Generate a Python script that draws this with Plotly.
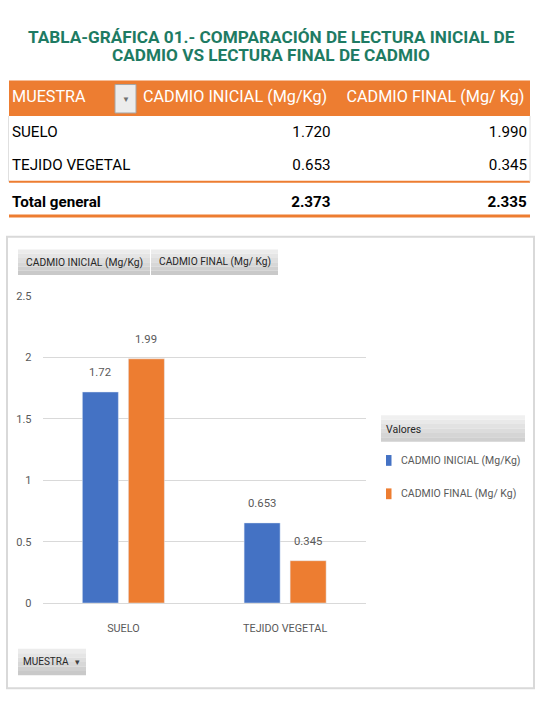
import plotly.graph_objects as go

# -- datos de la tabla / grafica
muestras = ["SUELO", "TEJIDO VEGETAL"]
cadmio_inicial = [1.720, 0.653]
cadmio_final = [1.990, 0.345]
total_inicial = 2.373
total_final = 2.335
etiquetas_inicial = ["1.72", "0.653"]
etiquetas_final = ["1.99", "0.345"]
serie_inicial = "CADMIO INICIAL (Mg/Kg)"
serie_final = "CADMIO FINAL (Mg/ Kg)"
y_ticks = [0, 0.5, 1, 1.5, 2, 2.5]
titulo = ["TABLA-GRÁFICA 01.- COMPARACIÓN DE LECTURA INICIAL DE",
          "CADMIO VS LECTURA FINAL DE CADMIO"]

W, H = 543, 702
FONT = "Roboto, Liberation Sans, sans-serif"
AZUL = "#4472c4"
NARANJA = "#ed7d31"
GRIS_TXT = "#595959"
BARGAP, BARGROUPGAP = 0.431, 0.217
X0_PLOT, X1_PLOT = 42.5, 366


def px(x):
    return x / W


def py(y):
    return 1 - y / H


def nb(s):
    # espacios no separables para que la tabla no parta el texto
    return s.replace(" ", "\u00a0")


fig = go.Figure()

# -- tabla dinamica
col_muestra = [nb(m) for m in muestras] + ["<b>" + nb("Total general") + "</b>"]
col_inicial = [f"{v:.3f}" for v in cadmio_inicial] + [f"<b>{total_inicial:.3f}</b>"]
col_final = [f"{v:.3f}" for v in cadmio_final] + [f"<b>{total_final:.3f}</b>"]

fig.add_trace(go.Table(
    domain=dict(x=[px(4), px(535)], y=[py(214), py(77)]),
    columnwidth=[131, 203.5, 196.5],
    header=dict(values=["MUESTRA", nb(serie_inicial), nb(serie_final)],
                fill_color="rgba(0,0,0,0)", line=dict(width=0, color="rgba(0,0,0,0)"),
                font=dict(family=FONT, size=16.2, color="white"), align="left", height=36),
    cells=dict(values=[col_muestra, col_inicial, col_final],
               fill_color="rgba(0,0,0,0)", line=dict(width=0, color="rgba(0,0,0,0)"),
               font=dict(family=FONT, size=15.2, color="black"),
               align=["left", "right", "right"], height=33.5),
))

# -- grafica de barras
fig.add_trace(go.Bar(x=muestras, y=cadmio_inicial, name=serie_inicial, marker_color=AZUL))
fig.add_trace(go.Bar(x=muestras, y=cadmio_final, name=serie_final, marker_color=NARANJA))

shapes = [
    # encabezado naranja
    dict(type="rect", xref="paper", yref="paper", x0=px(9), x1=px(530), y0=py(112), y1=py(76),
         fillcolor=NARANJA, line_width=0, layer="below"),
    # boton desplegable del encabezado
    dict(type="rect", xref="paper", yref="paper", x0=px(115), x1=px(136), y0=py(109), y1=py(80),
         fillcolor="#ececec", line=dict(color="#a6a6a6", width=1)),
    # lineas de la tabla
    dict(type="line", xref="paper", yref="paper", x0=px(9), x1=px(530), y0=py(179), y1=py(179),
         line=dict(color=NARANJA, width=2)),
    dict(type="line", xref="paper", yref="paper", x0=px(9), x1=px(530), y0=py(214), y1=py(214),
         line=dict(color=NARANJA, width=3)),
    dict(type="line", xref="paper", yref="paper", x0=px(8.5), x1=px(8.5), y0=py(179), y1=py(112),
         line=dict(color="#e0e0e0", width=1)),
    dict(type="line", xref="paper", yref="paper", x0=px(530), x1=px(530), y0=py(179), y1=py(112),
         line=dict(color="#e0e0e0", width=1)),
    # marco del grafico
    dict(type="rect", xref="paper", yref="paper", x0=px(7), x1=px(534), y0=py(695), y1=py(235),
         line=dict(color="#d9d9d9", width=2), fillcolor="rgba(0,0,0,0)", layer="below"),
]


# botones de campo (gradiente gris simulado)
def boton(x0, x1, y0, y1, claro="#ececec", oscuro="#c9c9c9", pasos=6):
    out = []
    h = (y1 - y0) / pasos
    c1 = [int(claro[i:i + 2], 16) for i in (1, 3, 5)]
    c2 = [int(oscuro[i:i + 2], 16) for i in (1, 3, 5)]
    for k in range(pasos):
        t = k / (pasos - 1)
        c = "#" + "".join(f"{int(a + (b - a) * t):02x}" for a, b in zip(c1, c2))
        out.append(dict(type="rect", xref="paper", yref="paper", x0=px(x0), x1=px(x1),
                        y0=py(y0 + h * (k + 1)), y1=py(y0 + h * k), fillcolor=c, line_width=0,
                        layer="below"))
    return out


shapes += boton(18, 150, 248, 274)
shapes += boton(151, 278, 248, 274)
shapes += boton(381, 525, 417, 444, claro="#f0f0f0", oscuro="#cfcfcf")
shapes += boton(18, 86, 655, 682)


def nota(texto, x, y, size, color="#262626", xanchor="center", **kw):
    return dict(text=texto, xref="paper", yref="paper", x=px(x), y=py(y), showarrow=False,
                xanchor=xanchor, yanchor="middle", font=dict(family=FONT, size=size, color=color, **kw))


annotations = [
    nota(titulo[0], 271.5, 32, 17.2, color="#1e7b63", weight="bold"),
    nota(titulo[1], 271, 50, 17.2, color="#1e7b63", weight="bold"),
    nota("▼", 125.5, 95, 8, color="#707070"),
    nota(serie_inicial, 84, 261, 10.3),
    nota(serie_final, 214.5, 261, 10.2),
    nota("Valores", 384, 431, 10.5, xanchor="left"),
    nota("MUESTRA", 21, 668, 10, xanchor="left"),
    nota("▾", 77, 668, 9, color="#404040"),
]

# leyenda al estilo de la tabla dinamica
for i, (nombre, color) in enumerate([(serie_inicial, AZUL), (serie_final, NARANJA)]):
    yc = 463 + 34 * i
    shapes.append(dict(type="rect", xref="paper", yref="paper", x0=px(386), x1=px(391.5),
                       y0=py(yc + 5.5), y1=py(yc - 5.5), fillcolor=color, line_width=0))
    annotations.append(nota(nombre, 399, yc, 10.5, color=GRIS_TXT, xanchor="left"))

# etiquetas de datos sobre cada barra
desplaz = (X1_PLOT - X0_PLOT) / len(muestras) * (1 - BARGAP) / 4
for serie, etiquetas, signo in [(cadmio_inicial, etiquetas_inicial, -1), (cadmio_final, etiquetas_final, 1)]:
    for cat, val, txt in zip(muestras, serie, etiquetas):
        annotations.append(dict(text=txt, x=cat, y=val, xref="x", yref="y", showarrow=False,
                                xshift=signo * desplaz, yanchor="bottom", yshift=11,
                                font=dict(family=FONT, size=11.3, color=GRIS_TXT)))

fig.update_layout(
    width=W, height=H,
    margin=dict(l=0, r=0, t=0, b=0),
    paper_bgcolor="white", plot_bgcolor="white",
    font=dict(family=FONT, color=GRIS_TXT),
    barmode="group", bargap=BARGAP, bargroupgap=BARGROUPGAP,
    xaxis=dict(domain=[px(X0_PLOT), px(X1_PLOT)], showline=False, ticks="", ticklabelstandoff=17,
               tickfont=dict(family=FONT, size=10.8, color=GRIS_TXT)),
    yaxis=dict(domain=[py(608.3), py(295.7)], range=[0, 2.5], tickvals=y_ticks,
               ticktext=[f"{v:g}" for v in y_ticks],
               showgrid=True, gridcolor="#d9d9d9", gridwidth=1, zeroline=True,
               zerolinecolor="#d9d9d9", zerolinewidth=1, ticklabelstandoff=10,
               tickfont=dict(family=FONT, size=11, color=GRIS_TXT)),
    showlegend=False,
    shapes=shapes,
    annotations=annotations,
)

# la figura ocupa justo la ventana, sin margen ni espacio sobrante
ajuste_pagina = (
    "document.body.style.margin='0px';"
    "var gd=document.getElementById('{plot_id}');"
    "gd.style.position='fixed';gd.style.top='0px';gd.style.left='0px';"
    "document.documentElement.style.overflow='hidden';"
)
fig.write_html("out.html", config={"displayModeBar": False}, post_script=ajuste_pagina)
